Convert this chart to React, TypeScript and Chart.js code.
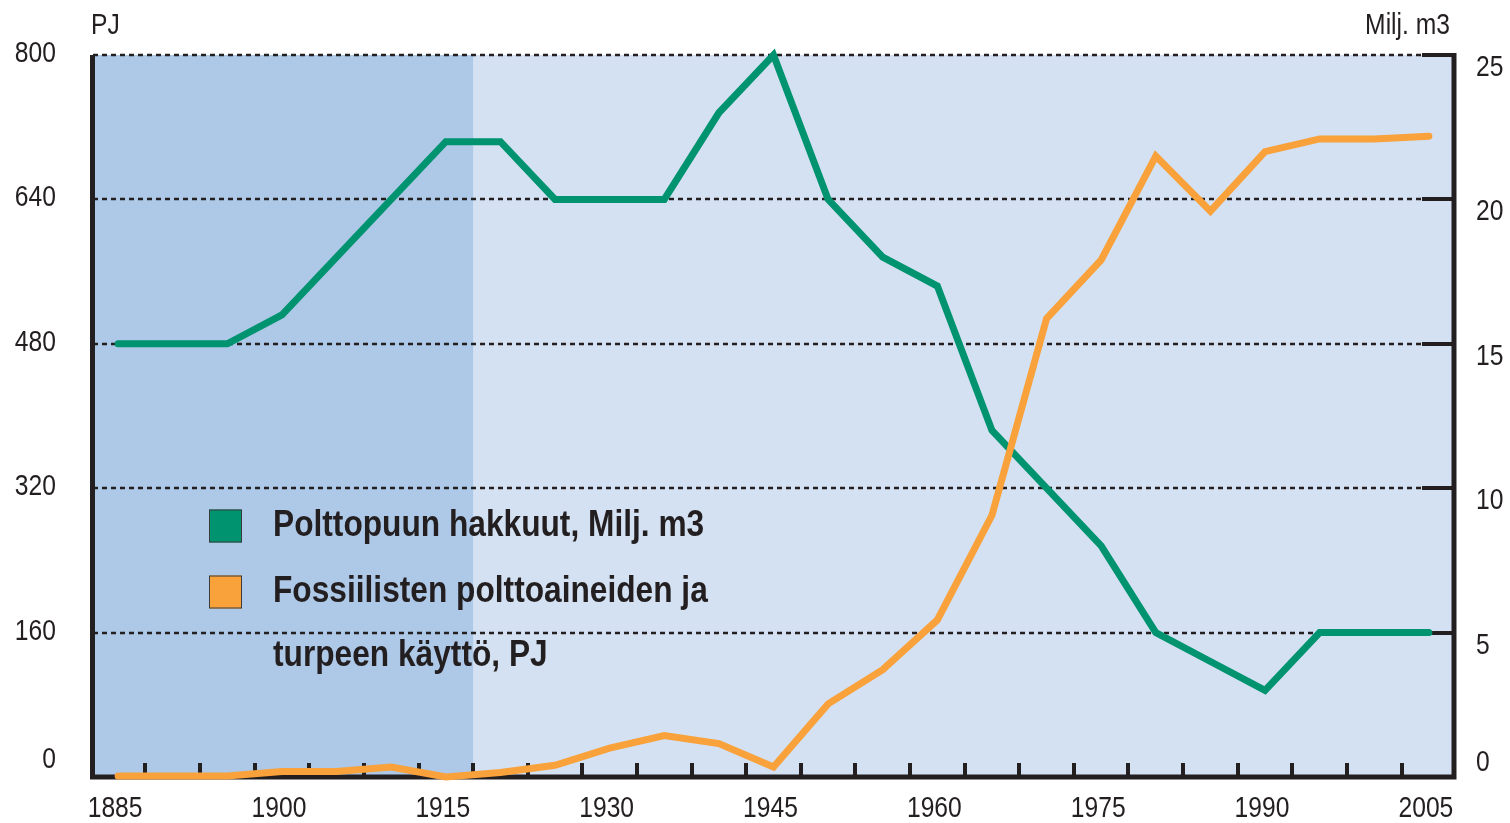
import React, { useEffect, useRef } from "react";
import { Chart, registerables } from "chart.js";

Chart.register(...registerables);

// ---------- data ----------
const years = [1885, 1890, 1895, 1900, 1905, 1910, 1915, 1920, 1925, 1930, 1935, 1940, 1945, 1950, 1955, 1960, 1965, 1970, 1975, 1980, 1985, 1990, 1995, 2000, 2005];
// Polttopuun hakkuut, Milj. m3 (right axis)
const fuelwood = [15, 15, 15, 16, 18, 20, 22, 22, 20, 20, 20, 23, 25, 20, 18, 17, 12, 10, 8, 5, 4, 3, 5, 5, 5];
// Fossiilisten polttoaineiden ja turpeen käyttö, PJ (left axis)
const fossil = [1, 1, 1, 6, 6, 11, 0, 5, 13, 32, 46, 37, 11, 81, 119, 174, 290, 508, 573, 688, 627, 693, 707, 707, 710];

const leftTicks = [0, 160, 320, 480, 640, 800];
const rightTicks = [0, 5, 10, 15, 20, 25];
const xLabels = [1885, 1900, 1915, 1930, 1945, 1960, 1975, 1990, 2005];
const minorTicks = [1887.5, 1892.5, 1897.5, 1902.5, 1907.5, 1912.5, 1917.5, 1922.5, 1927.5, 1932.5, 1937.5, 1942.5, 1947.5, 1952.5, 1957.5, 1962.5, 1967.5, 1972.5, 1977.5, 1982.5, 1987.5, 1992.5, 1997.5, 2002.5];
const shadeEnd = 1917.5;

const leftTitle = "PJ";
const rightTitle = "Milj. m3";
const legendGreen = ["Polttopuun hakkuut, Milj. m3"];
const legendOrange = ["Fossiilisten polttoaineiden ja", "turpeen käyttö, PJ"];

// ---------- styles ----------
const GREEN = "#00936f";
const ORANGE = "#f9a13a";
const DARK_BG = "#aec8e8";
const LIGHT_BG = "#d4e1f2";
const INK = "#231f20";
const FONT_FAMILY = "'Liberation Sans', Arial, Helvetica, sans-serif";

function narrowText(ctx: CanvasRenderingContext2D, text: string, x: number, y: number, align: CanvasTextAlign, sx: number) {
  ctx.save();
  ctx.translate(x, y);
  ctx.scale(sx, 1);
  ctx.textAlign = align;
  ctx.fillText(text, 0, 0);
  ctx.restore();
}

const decoPlugin = {
  id: "deco",
  beforeDraw(chart: any) {
    const { ctx, chartArea: a, scales } = chart;
    const x = scales.x;
    const yl = scales.y;
    const yr = scales.y1;
    ctx.save();
    // background
    ctx.fillStyle = LIGHT_BG;
    ctx.fillRect(a.left, a.top, a.right - a.left, a.bottom - a.top);
    const xs = x.getPixelForValue(shadeEnd);
    ctx.fillStyle = DARK_BG;
    ctx.fillRect(a.left, a.top, xs - a.left, a.bottom - a.top);

    // dotted grid lines
    ctx.strokeStyle = INK;
    ctx.lineWidth = 2.5;
    ctx.setLineDash([5, 4]);
    for (const v of leftTicks) {
      if (v === 0) continue;
      const py = Math.round(yl.getPixelForValue(v));
      ctx.beginPath();
      ctx.moveTo(a.left, py);
      ctx.lineTo(a.right - 32, py);
      ctx.stroke();
    }
    ctx.setLineDash([]);

    // right axis tick marks
    ctx.lineWidth = 4;
    for (const v of rightTicks) {
      if (v === 0) continue;
      const py = Math.round(yr.getPixelForValue(v));
      ctx.beginPath();
      ctx.moveTo(a.right - 32, py);
      ctx.lineTo(a.right, py);
      ctx.stroke();
    }

    // axis lines
    ctx.lineWidth = 5;
    ctx.beginPath();
    ctx.moveTo(a.left - 0.5, a.top);
    ctx.lineTo(a.left - 0.5, a.bottom + 2.5);
    ctx.moveTo(a.right, a.top - 2);
    ctx.lineTo(a.right, a.bottom + 2.5);
    ctx.moveTo(a.left - 3, a.bottom);
    ctx.lineTo(a.right + 2.5, a.bottom);
    ctx.stroke();

    // bottom minor tick marks
    ctx.lineWidth = 4;
    for (const t of minorTicks) {
      const px = Math.round(x.getPixelForValue(t));
      ctx.beginPath();
      ctx.moveTo(px, a.bottom);
      ctx.lineTo(px, a.bottom - 14);
      ctx.stroke();
    }
    ctx.restore();
  },
  afterDraw(chart: any) {
    const { ctx, chartArea: a, scales } = chart;
    const x = scales.x;
    const yl = scales.y;
    const yr = scales.y1;
    ctx.save();
    ctx.fillStyle = INK;
    ctx.font = `29px ${FONT_FAMILY}`;
    ctx.textBaseline = "middle";
    const SX = 0.85;

    // left tick labels
    for (const v of leftTicks) {
      const py = yl.getPixelForValue(v);
      narrowText(ctx, String(v), 56, v === 0 ? py - 17 : py - 1, "right", SX);
    }
    // right tick labels
    for (const v of rightTicks) {
      const py = yr.getPixelForValue(v);
      narrowText(ctx, String(v), a.right + 22, v === 0 ? py - 14 : py + 13, "left", SX);
    }
    // x labels
    for (const v of xLabels) {
      narrowText(ctx, String(v), x.getPixelForValue(v) - 3, 809, "center", SX);
    }
    // axis titles
    narrowText(ctx, leftTitle, 91, 26, "left", SX);
    narrowText(ctx, rightTitle, 1450, 26, "right", SX);

    // legend
    const boxX = 209;
    const boxS = 33;
    const textX = 273;
    const rows = [
      { color: GREEN, lines: legendGreen, y: 526 },
      { color: ORANGE, lines: legendOrange, y: 592 },
    ];
    ctx.font = `bold 36px ${FONT_FAMILY}`;
    for (const r of rows) {
      ctx.fillStyle = r.color;
      ctx.fillRect(boxX, r.y - boxS / 2, boxS, boxS);
      ctx.strokeStyle = "#3a3a3a";
      ctx.lineWidth = 1;
      ctx.strokeRect(boxX + 0.5, r.y - boxS / 2 + 0.5, boxS - 1, boxS - 1);
      ctx.fillStyle = INK;
      r.lines.forEach((ln, i) => {
        narrowText(ctx, ln, textX, r.y + i * 64, "left", 0.88);
      });
    }
    ctx.restore();
  },
};

export default function App() {
  const canvasRef = useRef<HTMLCanvasElement | null>(null);

  useEffect(() => {
    const canvas = canvasRef.current;
    if (!canvas) return;
    const chart = new Chart(canvas, {
      type: "line",
      data: {
        datasets: [
          {
            label: legendOrange.join(" "),
            data: years.map((yr, i) => ({ x: yr, y: fossil[i] })),
            yAxisID: "y",
            borderColor: ORANGE,
            backgroundColor: ORANGE,
            borderWidth: 7,
            pointRadius: 0,
            tension: 0,
            borderCapStyle: "round",
            borderJoinStyle: "miter",
            clip: false,
          },
          {
            label: legendGreen.join(" "),
            data: years.map((yr, i) => ({ x: yr, y: fuelwood[i] })),
            yAxisID: "y1",
            borderColor: GREEN,
            backgroundColor: GREEN,
            borderWidth: 7,
            pointRadius: 0,
            tension: 0,
            borderCapStyle: "round",
            borderJoinStyle: "miter",
            clip: false,
          },
        ],
      },
      options: {
        animation: false,
        responsive: false,
        devicePixelRatio: 1,
        events: [],
        layout: { padding: { left: 93, right: 56, top: 55, bottom: 46 } },
        plugins: {
          legend: { display: false },
          tooltip: { enabled: false },
        },
        scales: {
          x: { type: "linear", display: false, min: 1882.7, max: 2007.3 },
          y: { type: "linear", display: false, min: 0, max: 800 },
          y1: { type: "linear", display: false, min: 0, max: 25, position: "right" },
        },
      },
      plugins: [decoPlugin],
    } as any);
    return () => chart.destroy();
  }, []);

  return (
    <div style={{ position: "fixed", left: 0, top: 0, width: 1510, height: 823, background: "#ffffff" }}>
      <canvas ref={canvasRef} width={1510} height={823} style={{ display: "block", width: 1510, height: 823 }} />
    </div>
  );
}
